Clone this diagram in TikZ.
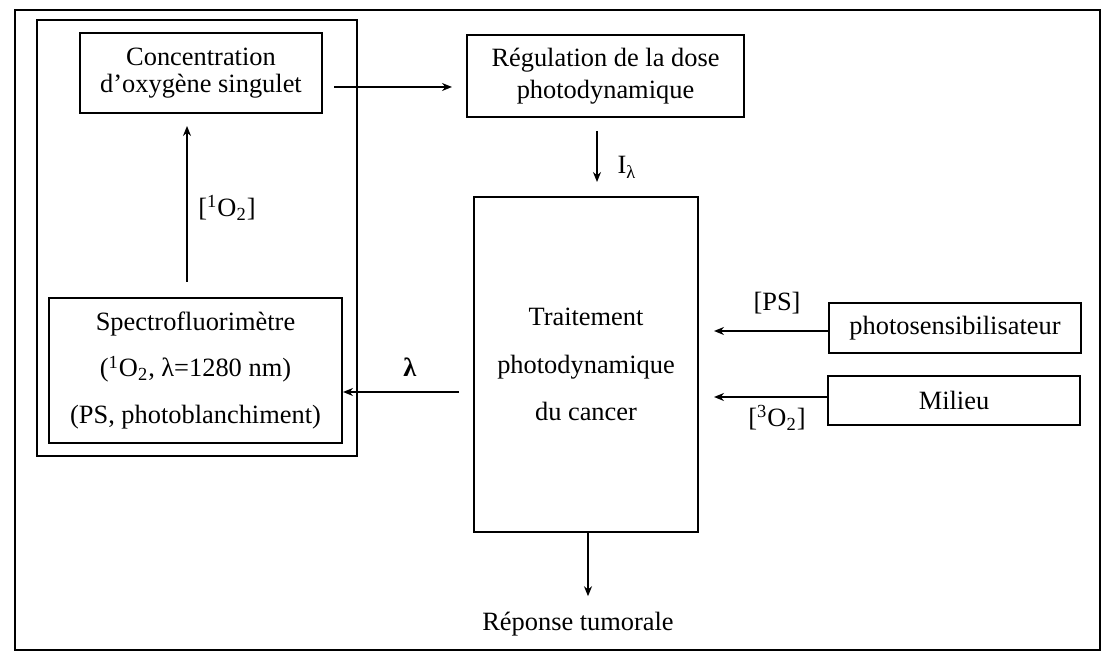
\documentclass[tikz,border=0pt]{standalone}
\usepackage{fontspec}
\setmainfont{Liberation Serif}
\usetikzlibrary{arrows.meta,calc}
\begin{document}
\begin{tikzpicture}[x=0.5pt,y=-0.5pt,
  box/.style={draw,line width=1pt,inner sep=0pt,align=center},
  arr/.style={-{Stealth[length=5pt,width=4pt]},line width=0.8pt},
  lbl/.style={inner sep=0pt,font=\fontsize{13.2}{16}\selectfont}]
\useasboundingbox (0,0) rectangle (1104,657);
\node[draw,line width=1.3pt,minimum width=542.5pt,minimum height=320pt] (outer) at (557.5,330) {};
\node[draw,line width=1.1pt,minimum width=160pt,minimum height=218pt] (inner) at (197,238) {};
\node[box,minimum width=121pt,minimum height=40pt,font=\fontsize{13.2}{13.5}\selectfont] (conc) at (201,73) {Concentration\\d’oxygène singulet};
\node[box,minimum width=138.5pt,minimum height=41pt,font=\fontsize{13.2}{16}\selectfont] (reg) at (605.5,76) {Régulation de la dose\\photodynamique};
\node[box,minimum width=146.5pt,minimum height=72.5pt,font=\fontsize{13.2}{23.25}\selectfont] (spec) at (195.5,370.5) {Spectrofluorimètre\\(\textsuperscript{1}O\textsubscript{2}, λ=1280 nm)\\(PS, photoblanchiment)};
\node[box,minimum width=112pt,minimum height=167.5pt,font=\fontsize{13.2}{23.75}\selectfont] (trait) at (586,364.5) {Traitement\\photodynamique\\du cancer};
\node[box,minimum width=126pt,minimum height=25pt,font=\fontsize{13.2}{16}\selectfont] (photo) at (955,328) {photosensibilisateur};
\node[box,minimum width=126pt,minimum height=24.5pt,font=\fontsize{13.2}{16}\selectfont] (mil) at (954,400.5) {Milieu};
\node[lbl,anchor=base] (rep) at (578,631) {Réponse tumorale};
\draw[arr,shorten <=5.5pt,shorten >=7pt] ([yshift=-7pt]conc.east) -- ([yshift=-7pt]conc.east -| reg.west);
\draw[arr,shorten <=6.5pt,shorten >=7pt] ([xshift=-4.25pt]reg.south) -- ([xshift=-4.25pt]reg.south |- trait.north);
\draw[arr,shorten <=7.5pt,shorten >=6pt] ([xshift=-4.25pt]spec.north) -- ([xshift=-4.25pt]spec.north |- conc.south);
\draw[arr,shorten <=7pt] ([yshift=-13.75pt]trait.west) -- ([yshift=-13.75pt]trait.west -| spec.east);
\draw[arr,shorten >=7.5pt] ([yshift=-1.5pt]photo.west) -- ([yshift=-1.5pt]photo.west -| trait.east);
\draw[arr,shorten >=7.5pt] ([yshift=1.75pt]mil.west) -- ([yshift=1.75pt]mil.west -| trait.east);
\draw[arr,shorten >=8pt] ([xshift=1pt]trait.south) -- ([xshift=1pt]trait.south |- rep.north);
\node[lbl] (lo2) at (227,208) {[\textsuperscript{1}O\textsubscript{2}]};
\node[lbl] (lps) at (777,303) {[PS]};
\node[lbl] (lo3) at (777,418) {[\textsuperscript{3}O\textsubscript{2}]};
\node[lbl] (llam) at (410,367) {\textbf{λ}};
\node[lbl] (li) at (627,167) {I\textsubscript{λ}};
\end{tikzpicture}
\end{document}
